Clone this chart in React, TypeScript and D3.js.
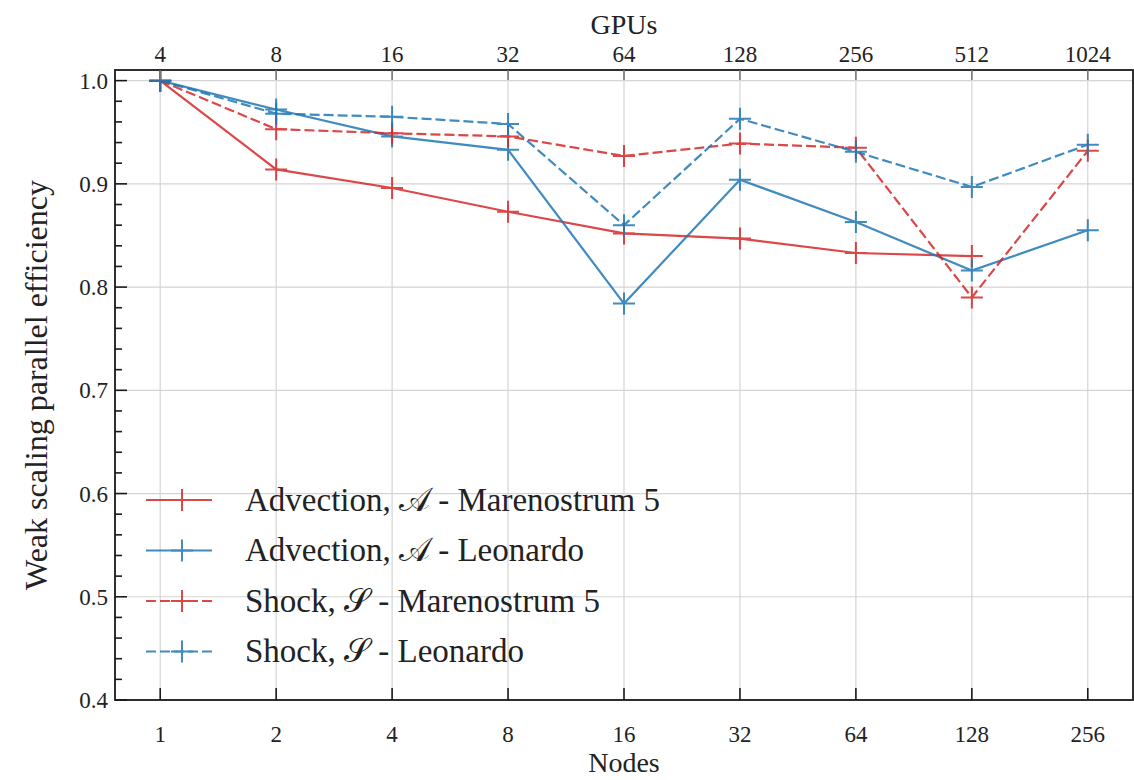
import React from 'react';
import * as d3 from 'd3';

const nodes = ['1', '2', '4', '8', '16', '32', '64', '128', '256'];
const gpus = ['4', '8', '16', '32', '64', '128', '256', '512', '1024'];
const yTicks = [0.4, 0.5, 0.6, 0.7, 0.8, 0.9, 1.0];

const advMare = [1.0, 0.914, 0.896, 0.873, 0.852, 0.847, 0.833, 0.83];
const advLeo = [1.0, 0.972, 0.946, 0.933, 0.784, 0.904, 0.863, 0.816, 0.855];
const shockMare = [1.0, 0.953, 0.949, 0.946, 0.927, 0.939, 0.935, 0.79, 0.932];
const shockLeo = [1.0, 0.968, 0.965, 0.958, 0.86, 0.963, 0.931, 0.897, 0.938];

const RED = '#d62728';
const BLUE = '#1f77b4';

const series = [
  { label: 'Advection, 𝒜 - Marenostrum 5', values: advMare, color: RED, dashed: false },
  { label: 'Advection, 𝒜 - Leonardo', values: advLeo, color: BLUE, dashed: false },
  { label: 'Shock, 𝒮 - Marenostrum 5', values: shockMare, color: RED, dashed: true },
  { label: 'Shock, 𝒮 - Leonardo', values: shockLeo, color: BLUE, dashed: true },
];

const FONT = "'Liberation Serif'";

const width = 1134;
const height = 780;
const left = 115, right = 1133, top = 70, bottom = 700;

const x = d3.scaleLinear().domain([-0.39, 8.39]).range([left, right]);
const y = d3.scaleLinear().domain([0.4, 1.0103]).range([bottom, top]);
const minor = d3.range(0.4, 1.0001, 0.02);

const line = d3.line<number>()
  .x((d, i) => x(i))
  .y(d => y(d));

const plus = (cx: number, cy: number, r = 11) =>
  `M${cx - r},${cy}H${cx + r}M${cx},${cy - r}V${cy + r}`;

const css = `
  html body svg#chart text.lbl, html body svg#chart text.lbl tspan {
    font-family: 'Liberation Serif', 'Times New Roman', Tinos, serif !important;
  }
`;

export default function App() {
  return (
    <svg id="chart" width={width} height={height}
      style={{ position: 'absolute', left: 0, top: 0 }}>
      <style>{css}</style>
      <rect width={width} height={height} fill="#fff" />

      {/* grid */}
      <g stroke="#d4d4d4" strokeWidth={1.2}>
        {nodes.map((n, i) => (
          <line key={n} x1={x(i)} x2={x(i)} y1={top} y2={bottom} />
        ))}
        {yTicks.map(t => (
          <line key={t} x1={left} x2={right} y1={y(t)} y2={y(t)} />
        ))}
      </g>

      {/* series */}
      {series.map(s => (
        <g key={s.label} opacity={0.85}>
          <path
            d={line(s.values) || ''}
            fill="none"
            stroke={s.color}
            strokeWidth={2.2}
            strokeDasharray={s.dashed ? '10,4' : undefined}
          />
          {s.values.map((v, i) => (
            <path key={i} d={plus(x(i), y(v))} fill="none" stroke={s.color} strokeWidth={2} />
          ))}
        </g>
      ))}

      {/* spines */}
      <rect x={left} y={top} width={right - left} height={bottom - top}
        fill="none" stroke="#1a1a1a" strokeWidth={1.8} />

      {/* ticks, inward */}
      <g stroke="#1a1a1a" strokeWidth={1.6}>
        {nodes.map((n, i) => (
          <line key={'b' + n} x1={x(i)} x2={x(i)} y1={bottom} y2={bottom - 12} />
        ))}
        {gpus.map((n, i) => (
          <line key={'t' + n} x1={x(i)} x2={x(i)} y1={top} y2={top + 10} stroke="#777" />
        ))}
        {minor.map(t => {
          const major = Math.abs(Math.round(t * 10) - t * 10) < 1e-6;
          return <line key={t} x1={left} x2={left + (major ? 12 : 7)} y1={y(t)} y2={y(t)} />;
        })}
      </g>

      {/* tick labels */}
      {yTicks.map(t => (
        <text key={t} className="lbl" x={108} y={y(t)} dy="0.35em" textAnchor="end" fontSize={23}
          fill="#222" style={{ fontFamily: FONT }}>
          {d3.format('.1f')(t)}
        </text>
      ))}
      {nodes.map((n, i) => (
        <text key={n} className="lbl" x={x(i)} y={742} textAnchor="middle" fontSize={23}
          fill="#222" style={{ fontFamily: FONT }}>{n}</text>
      ))}
      {gpus.map((n, i) => (
        <text key={n} className="lbl" x={x(i)} y={62} textAnchor="middle" fontSize={23}
          fill="#222" style={{ fontFamily: FONT }}>{n}</text>
      ))}

      {/* axis labels */}
      <text className="lbl" x={(left + right) / 2} y={772} textAnchor="middle" fontSize={28}
        fill="#222" style={{ fontFamily: FONT }}>Nodes</text>
      <text className="lbl" x={(left + right) / 2} y={34} textAnchor="middle" fontSize={28}
        fill="#222" style={{ fontFamily: FONT }}>GPUs</text>
      <text className="lbl" transform={`translate(47,${(top + bottom) / 2}) rotate(-90)`}
        textAnchor="middle" fontSize={32} fill="#222" style={{ fontFamily: FONT }}>
        Weak scaling parallel efficiency
      </text>

      {/* legend */}
      {series.map((s, i) => {
        const ly = 500 + i * 50.5;
        return (
          <g key={s.label}>
            <g opacity={0.85} stroke={s.color}>
              <line x1={146} x2={212} y1={ly} y2={ly} strokeWidth={2.2}
                strokeDasharray={s.dashed ? '10,4' : undefined} />
              <path d={plus(182, ly)} strokeWidth={2} fill="none" />
            </g>
            <text className="lbl" x={245} y={ly} dy="0.33em" fontSize={33} fill="#222"
              style={{ fontFamily: FONT }}>{s.label}</text>
          </g>
        );
      })}
    </svg>
  );
}
